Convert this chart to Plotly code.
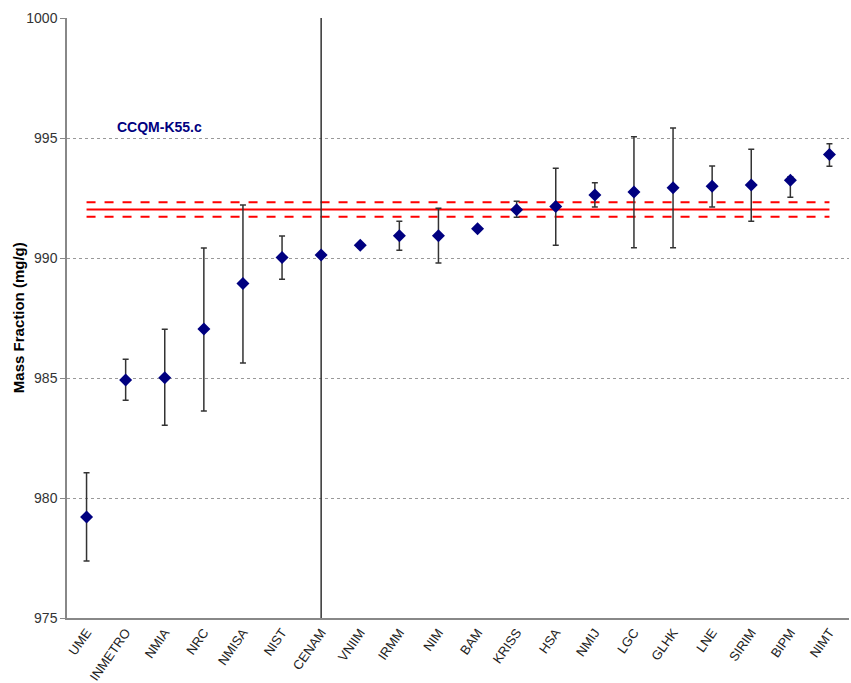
import plotly.graph_objects as go

labs = ["UME", "INMETRO", "NMIA", "NRC", "NMISA", "NIST", "CENAM", "VNIIM", "IRMM", "NIM",
        "BAM", "KRISS", "HSA", "NMIJ", "LGC", "GLHK", "LNE", "SIRIM", "BIPM", "NIMT"]
values = [979.21, 984.92, 985.01, 987.04, 988.94, 990.02, 990.12, 990.53, 990.93, 990.93,
          991.22, 992.01, 992.15, 992.62, 992.75, 992.93, 992.99, 993.04, 993.24, 994.31]
err_plus = [1.84, 0.86, 2.02, 3.38, 3.27, 0.90, 25.0, 0.10, 0.60, 1.14,
            0.08, 0.35, 1.59, 0.52, 2.30, 2.49, 0.84, 1.49, 0.15, 0.45]
err_minus = [1.84, 0.85, 1.98, 3.41, 3.32, 0.91, 25.0, 0.10, 0.61, 1.14,
             0.08, 0.31, 1.62, 0.49, 2.32, 2.50, 0.86, 1.51, 0.71, 0.49]
kcrv = 992.02
kcrv_u = 0.30

fig = go.Figure()

for yv, dash in [(kcrv + kcrv_u, "dash"), (kcrv, "solid"), (kcrv - kcrv_u, "dash")]:
    fig.add_trace(go.Scatter(
        x=labs, y=[yv] * len(labs), mode="lines",
        line=dict(color="#ff0000", width=2, dash=dash),
        showlegend=False, hoverinfo="skip"))

fig.add_trace(go.Scatter(
    x=labs, y=values, mode="markers",
    marker=dict(symbol="diamond", size=10, color="#000080"),
    error_y=dict(type="data", symmetric=False, array=err_plus, arrayminus=err_minus,
                 color="#333333", thickness=1.5, width=3),
    showlegend=False, cliponaxis=True))

fig.add_annotation(x=0.062, y=0.818, xref="paper", yref="paper", xanchor="left", yanchor="middle",
                   text="<b>CCQM-K55.c</b>", showarrow=False,
                   font=dict(family="Liberation Sans, Arial", size=14, color="#000080"))

fig.add_annotation(x=-0.0625, y=0.5, xref="paper", yref="paper", xanchor="center", yanchor="middle",
                   text="<b>Mass Fraction (mg/g)</b>", showarrow=False, textangle=-90,
                   font=dict(family="Liberation Sans, Arial", size=15, color="#000000"))

fig.update_layout(
    width=851, height=683,
    margin=dict(l=67, r=2, t=18, b=65, autoexpand=False),
    plot_bgcolor="white", paper_bgcolor="white",
    font=dict(family="Liberation Sans, Arial", color="#222222"),
    xaxis=dict(type="category", tickangle=-55, tickfont=dict(size=13, color="#222222"),
               showline=True, linecolor="#888888", linewidth=1.5, showgrid=False,
               ticks="", range=[-0.5, len(labs) - 0.5], automargin=False),
    yaxis=dict(range=[975, 1000], dtick=5, tickfont=dict(size=14, color="#333333"),
               showline=True, linecolor="#888888", linewidth=1.5, automargin=False,
               showgrid=True, gridcolor="#999999", griddash="dot", gridwidth=1,
               zeroline=False, ticks="outside", ticklen=5, tickcolor="#888888"),
)

fig.write_html("out.html")
